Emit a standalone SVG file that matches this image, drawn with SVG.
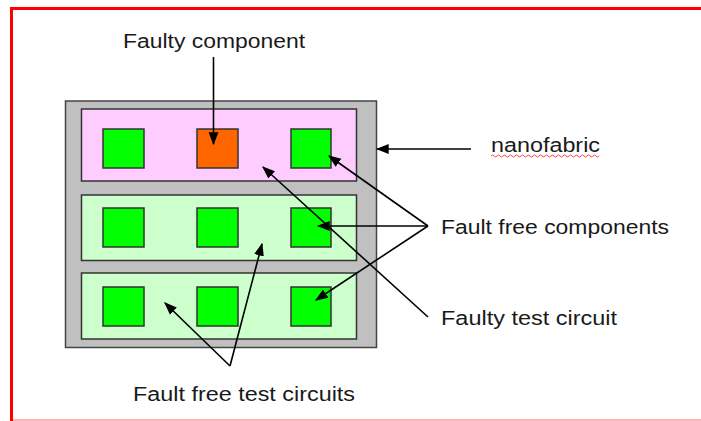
<svg xmlns="http://www.w3.org/2000/svg" width="701" height="421" viewBox="0 0 701 421">
<style>
.lbl{font-family:"Liberation Sans",Arial,sans-serif;font-size:20px;fill:#1a1a1a}
.sq{stroke:#333;stroke-width:1.5}
.ok{fill:#00ff00}
.bad{fill:#ff6600}
.panel{stroke:#333;stroke-width:1.5}
.con{stroke:#000;stroke-width:1.6;fill:none}
</style>
<defs>
<marker id="ahb" viewBox="0 0 10 10" refX="9" refY="5" markerWidth="13" markerHeight="13" markerUnits="userSpaceOnUse" orient="auto">
<path d="M0,1.2 L10,5 L0,8.8 Z" fill="#000"/>
</marker>
</defs>
<rect width="701" height="421" fill="#fff"/>
<g id="frame">
<rect x="10" y="7" width="691" height="3" fill="#ff0000"/>
<rect x="10" y="7" width="3" height="414" fill="#ff0000"/>
<rect x="13" y="419" width="688" height="2" fill="#ffb3b3"/>
</g>
<g id="nanofabric-box">
<rect x="65.5" y="101" width="311" height="246.5" fill="#c0c0c0" stroke="#444" stroke-width="1.5"/>
</g>
<g id="faulty-test-circuit">
<rect x="81.5" y="109" width="275" height="72" class="panel" fill="#ffccff"/>
</g>
<g id="test-circuit-2">
<rect x="81.5" y="195" width="275" height="65.5" class="panel" fill="#ccffcc"/>
</g>
<g id="test-circuit-3">
<rect x="81.5" y="273" width="275" height="66" class="panel" fill="#ccffcc"/>
</g>
<g id="components">
<rect x="103" y="129" width="41" height="39" class="sq ok"/>
<rect x="197" y="129" width="41" height="39" class="sq bad"/>
<rect x="291" y="129" width="40" height="39" class="sq ok"/>
<rect x="103" y="208" width="41" height="39" class="sq ok"/>
<rect x="197" y="208" width="41" height="39" class="sq ok"/>
<rect x="291" y="208" width="40" height="39" class="sq ok"/>
<rect x="103" y="287" width="41" height="39" class="sq ok"/>
<rect x="197" y="287" width="41" height="39" class="sq ok"/>
<rect x="291" y="287" width="40" height="39" class="sq ok"/>
</g>
<g id="connectors">
<line class="con" x1="213.5" y1="57" x2="213.5" y2="144" marker-end="url(#ahb)"/>
<line class="con" x1="471" y1="149" x2="377" y2="149" marker-end="url(#ahb)"/>
<line class="con" x1="428" y1="226" x2="329" y2="156" marker-end="url(#ahb)"/>
<line class="con" x1="428" y1="226" x2="318" y2="226" marker-end="url(#ahb)"/>
<line class="con" x1="428" y1="226" x2="316" y2="300" marker-end="url(#ahb)"/>
<line class="con" x1="428" y1="317" x2="263" y2="167" marker-end="url(#ahb)"/>
<line class="con" x1="230" y1="366" x2="165" y2="303" marker-end="url(#ahb)"/>
<line class="con" x1="230" y1="366" x2="262" y2="244" marker-end="url(#ahb)"/>
</g>
<g id="labels">
<text class="lbl" x="123" y="48" textLength="182" lengthAdjust="spacingAndGlyphs">Faulty component</text>
<text class="lbl" x="491" y="152" textLength="109" lengthAdjust="spacingAndGlyphs">nanofabric</text>
<path d="M491,156 q1.5,-2 3,0 t3,0 t3,0 t3,0 t3,0 t3,0 t3,0 t3,0 t3,0 t3,0 t3,0 t3,0 t3,0 t3,0 t3,0 t3,0 t3,0 t3,0 t3,0 t3,0 t3,0 t3,0 t3,0 t3,0 t3,0 t3,0 t3,0 t3,0 t3,0 t3,0 t3,0 t3,0 t3,0 t3,0 t3,0 t3,0" fill="none" stroke="#ff3333" stroke-width="0.9"/>
<text class="lbl" x="441" y="234" textLength="228" lengthAdjust="spacingAndGlyphs">Fault free components</text>
<text class="lbl" x="441" y="325" textLength="176" lengthAdjust="spacingAndGlyphs">Faulty test circuit</text>
<text class="lbl" x="133" y="401" textLength="222" lengthAdjust="spacingAndGlyphs">Fault free test circuits</text>
</g>
</svg>
